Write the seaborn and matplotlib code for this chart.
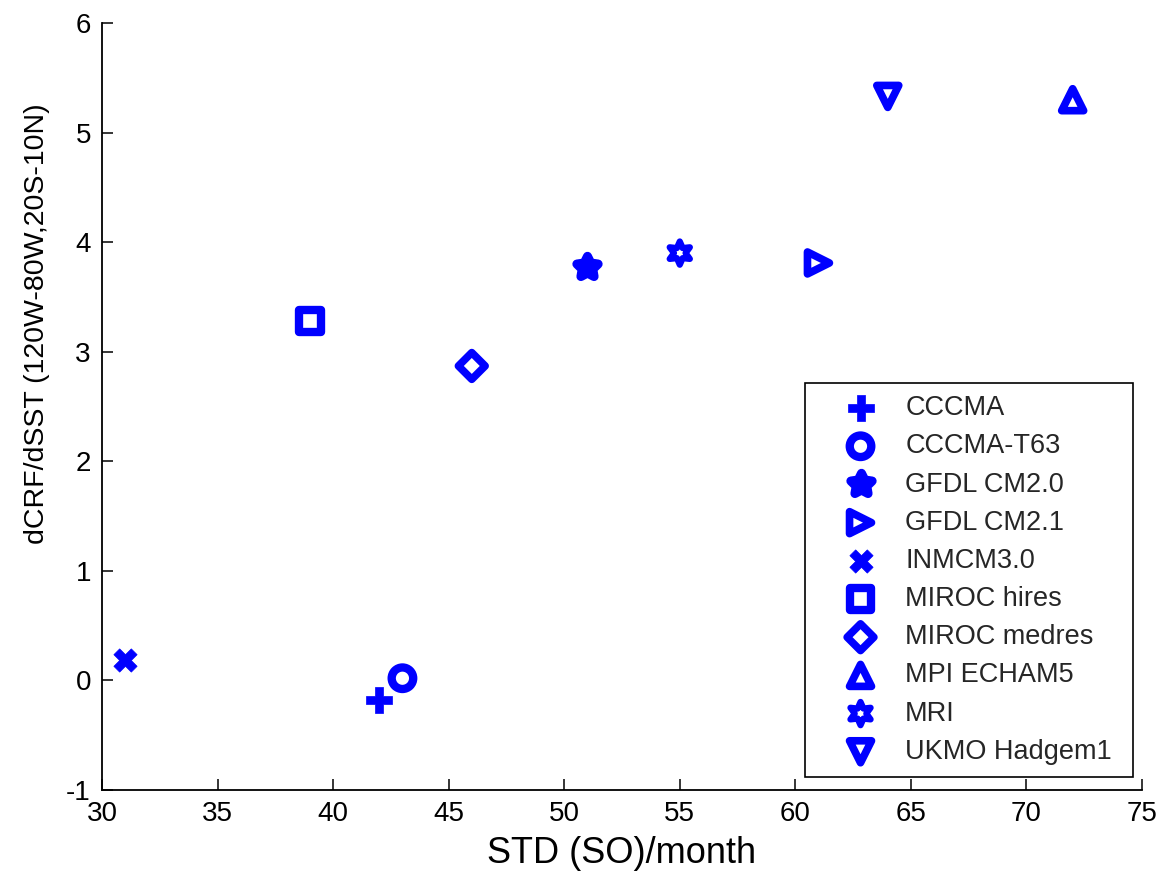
import matplotlib
matplotlib.use("Agg")
import matplotlib.pyplot as plt
import seaborn as sns
import pandas as pd

# ---- data ----
models = ["CCCMA", "CCCMA-T63", "GFDL CM2.0", "GFDL CM2.1", "INMCM3.0",
          "MIROC hires", "MIROC medres", "MPI ECHAM5", "MRI", "UKMO Hadgem1"]
std_so = [42, 43, 51, 61, 31, 39, 46, 72, 55, 64]
dcrf = [-0.18, 0.02, 3.77, 3.81, 0.19, 3.28, 2.87, 5.30, 3.90, 5.33]
xticks = [30, 35, 40, 45, 50, 55, 60, 65, 70, 75]
yticks = [-1, 0, 1, 2, 3, 4, 5, 6]

# marker styles (MATLAB-like): marker, size s, filled?, edge width
styles = {
    "CCCMA":        ("P", 340, True, 0.5),
    "CCCMA-T63":    ("o", 240, False, 6.0),
    "GFDL CM2.0":   ((5, 1, 0), 260, True, 6.5),
    "GFDL CM2.1":   (">", 250, False, 5.5),
    "INMCM3.0":     ("X", 280, True, 0.5),
    "MIROC hires":  ("s", 240, False, 6.0),
    "MIROC medres": ("D", 185, False, 5.5),
    "MPI ECHAM5":   ("^", 250, False, 5.5),
    "MRI":          ((6, 1, 0), 280, False, 4.5),
    "UKMO Hadgem1": ("v", 250, False, 5.5),
}

df = pd.DataFrame({"model": models, "std": std_so, "dcrf": dcrf})

sns.set_theme(style="ticks")
plt.rcParams["font.family"] = ["Liberation Sans", "DejaVu Sans"]

fig = plt.figure(figsize=(11.6, 8.76), dpi=100)
ax = fig.add_axes([102 / 1160, (876 - 790) / 876, 1040 / 1160, 767 / 876])

blue = (0, 0, 1)
for _, row in df.iterrows():
    m, s, filled, lw = styles[row["model"]]
    sns.scatterplot(x=[row["std"]], y=[row["dcrf"]], marker=m, s=s,
                    color=blue, ax=ax, legend=False, label=row["model"])
    coll = ax.collections[-1]
    coll.set_edgecolor(blue)
    coll.set_facecolor(blue if filled else "none")
    coll.set_linewidth(lw)
    coll.set_label(row["model"])

ax.set_xlim(30, 75)
ax.set_ylim(-1, 6)
ax.set_xticks(xticks)
ax.set_yticks(yticks)
ax.set_xticklabels([str(t) for t in xticks])
ax.set_yticklabels([str(t) for t in yticks])
ax.tick_params(direction="in", length=8, width=1.1, labelsize=20,
               pad=8, colors="black")
for sp in ["top", "right"]:
    ax.spines[sp].set_visible(False)
for sp in ["left", "bottom"]:
    ax.spines[sp].set_linewidth(1.3)
    ax.spines[sp].set_color("black")

ax.set_xlabel("STD (SO)/month", fontsize=26, color="black")
ax.set_ylabel("dCRF/dSST (120W-80W,20S-10N)", fontsize=20.5, color="black")
ax.xaxis.set_label_coords(0.5, -0.06)
ax.yaxis.set_label_coords(-0.05, 0.608)

leg = ax.legend(loc="upper left",
                bbox_to_anchor=(805 / 1160, (876 - 775) / 876, 328 / 1160, 392 / 876),
                bbox_transform=fig.transFigure, mode="expand",
                frameon=True, fancybox=False, framealpha=1, edgecolor="black",
                fontsize=19.5, borderaxespad=0, scatterpoints=1,
                borderpad=0.45, handlelength=3.2, handletextpad=0.05,
                labelspacing=0.45)
leg.get_frame().set_linewidth(1.2)

fig.savefig("out.png", dpi=100, facecolor="white")
